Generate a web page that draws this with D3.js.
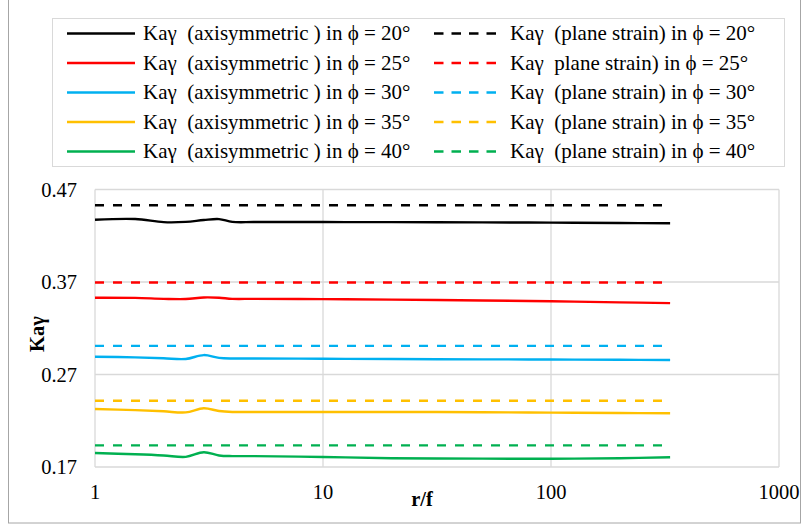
<!DOCTYPE html>
<html>
<head>
<meta charset="utf-8">
<script src="https://cdn.jsdelivr.net/npm/d3@7"></script>
<style>
  body { margin: 0; background: #fff; }
  text { font-family: "Liberation Serif", "Times New Roman", serif; }
</style>
</head>
<body>
<div id="chart"></div>
<script>
// r/f values (log axis)
var rf = [1, 1.5, 2, 2.5, 3, 3.5, 4, 5, 10, 20, 50, 100, 200, 333];

// Kay axisymmetric, one array per friction angle
var axi20 = [0.4373, 0.4381, 0.4347, 0.4350, 0.4370, 0.4380, 0.4350, 0.4348, 0.4348, 0.4347, 0.4345, 0.4342, 0.4338, 0.4335];
var axi25 = [0.3530, 0.3528, 0.3518, 0.3516, 0.3533, 0.3530, 0.3518, 0.3518, 0.3515, 0.3510, 0.3500, 0.3492, 0.3480, 0.3472];
var axi30 = [0.2892, 0.2885, 0.2875, 0.2868, 0.2910, 0.2880, 0.2873, 0.2873, 0.2870, 0.2867, 0.2864, 0.2862, 0.2859, 0.2857];
var axi35 = [0.2327, 0.2315, 0.2302, 0.2290, 0.2335, 0.2305, 0.2295, 0.2295, 0.2295, 0.2295, 0.2292, 0.2288, 0.2284, 0.2281];
var axi40 = [0.1851, 0.1838, 0.1825, 0.1810, 0.1860, 0.1825, 0.1818, 0.1818, 0.1808, 0.1795, 0.1790, 0.1790, 0.1795, 0.1806];

// Kay plane strain (constant over r/f)
var plane_rf = [1, 333];
var plane = [0.453, 0.3695, 0.301, 0.2417, 0.1934];

var phis = ["20", "25", "30", "35", "40"];
var colors = ["#000000", "#ff0000", "#00b0f0", "#ffc000", "#00b050"];

var y_ticks = [0.17, 0.27, 0.37, 0.47];
var x_ticks = [1, 10, 100, 1000];

var width = 803;
var height = 524;
var plot = {"left": 95, "right": 779, "top": 189.5, "bottom": 467};

var svg = d3.select('#chart').append('svg')
    .attr('width', width)
    .attr('height', height);

// outer frame
svg.append('rect')
    .attr('x', 8.5).attr('y', -1)
    .attr('width', 792).attr('height', 524)
    .attr('fill', 'none')
    .attr('stroke', '#a6a6a6')
    .attr('stroke-width', 1);

var x = d3.scaleLog().domain([1, 1000]).range([plot.left, plot.right]);
var y = d3.scaleLinear().domain([0.17, 0.47]).range([plot.bottom, plot.top]);

// grid
svg.selectAll('.hgrid')
    .data(y_ticks)
    .enter()
    .append('line')
    .attr('x1', plot.left).attr('x2', plot.right)
    .attr('y1', function(d){ return y(d); })
    .attr('y2', function(d){ return y(d); })
    .attr('stroke', '#d9d9d9')
    .attr('stroke-width', 1.3);

svg.selectAll('.vgrid')
    .data(x_ticks)
    .enter()
    .append('line')
    .attr('x1', function(d){ return x(d); })
    .attr('x2', function(d){ return x(d); })
    .attr('y1', plot.top).attr('y2', plot.bottom)
    .attr('stroke', '#d9d9d9')
    .attr('stroke-width', 1.3);

// tick labels
svg.selectAll('.ylab')
    .data(y_ticks)
    .enter()
    .append('text')
    .attr('x', 77)
    .attr('y', function(d){ return y(d); })
    .attr('dy', '0.35em')
    .attr('text-anchor', 'end')
    .attr('font-size', '20.5px')
    .text(function(d){ return d3.format('.2f')(d); });

svg.selectAll('.xlab')
    .data(x_ticks)
    .enter()
    .append('text')
    .attr('x', function(d){ return x(d); })
    .attr('y', 499)
    .attr('text-anchor', 'middle')
    .attr('font-size', '20.5px')
    .text(function(d){ return d; });

// axis titles
svg.append('text')
    .attr('x', 422).attr('y', 506)
    .attr('text-anchor', 'middle')
    .attr('font-size', '20.5px')
    .attr('font-weight', 'bold')
    .text('r/f');

svg.append('text')
    .attr('transform', 'translate(44,334) rotate(-90)')
    .attr('text-anchor', 'middle')
    .attr('font-size', '20.5px')
    .attr('font-weight', 'bold')
    .text('Kaγ');

var line = d3.line()
    .x(function(d){ return x(d[0]); })
    .y(function(d){ return y(d[1]); })
    .curve(d3.curveCatmullRom.alpha(0.5));

var axi = [axi20, axi25, axi30, axi35, axi40];

// plane strain dashed lines
svg.selectAll('.plane')
    .data(plane)
    .enter()
    .append('path')
    .attr('d', function(d){ return line(plane_rf.map(function(r){ return [r, d]; })); })
    .attr('fill', 'none')
    .attr('stroke', function(d, i){ return colors[i]; })
    .attr('stroke-width', 2.4)
    .attr('stroke-dasharray', '9,9');

// axisymmetric solid lines
svg.selectAll('.axi')
    .data(axi)
    .enter()
    .append('path')
    .attr('d', function(d){ return line(rf.map(function(r, j){ return [r, d[j]]; })); })
    .attr('fill', 'none')
    .attr('stroke', function(d, i){ return colors[i]; })
    .attr('stroke-width', 2.4);

// legend
svg.append('rect')
    .attr('x', 52.5).attr('y', 18.5)
    .attr('width', 732).attr('height', 148)
    .attr('fill', '#fff')
    .attr('stroke', '#d9d9d9')
    .attr('stroke-width', 1);

var row_y = function(i){ return 33.5 + i * 29.5; };

var legend = svg.selectAll('.legend')
    .data(phis)
    .enter()
    .append('g');

legend.append('line')
    .attr('x1', 67).attr('x2', 135)
    .attr('y1', function(d, i){ return row_y(i); })
    .attr('y2', function(d, i){ return row_y(i); })
    .attr('stroke', function(d, i){ return colors[i]; })
    .attr('stroke-width', 2.4);

legend.append('text')
    .attr('x', 143)
    .attr('y', function(d, i){ return row_y(i); })
    .attr('dy', '0.33em')
    .attr('font-size', '21px')
    .attr('xml:space', 'preserve')
    .text(function(d){ return 'Kaγ  (axisymmetric ) in ϕ = ' + d + '°'; });

legend.append('line')
    .attr('x1', 434).attr('x2', 498)
    .attr('y1', function(d, i){ return row_y(i); })
    .attr('y2', function(d, i){ return row_y(i); })
    .attr('stroke', function(d, i){ return colors[i]; })
    .attr('stroke-width', 2.4)
    .attr('stroke-dasharray', '9.5,8');

legend.append('text')
    .attr('x', 510)
    .attr('y', function(d, i){ return row_y(i); })
    .attr('dy', '0.33em')
    .attr('font-size', '21px')
    .attr('xml:space', 'preserve')
    .text(function(d, i){
        if (d == '25') return 'Kaγ  plane strain) in ϕ = ' + d + '°';
        return 'Kaγ  (plane strain) in ϕ = ' + d + '°';
    });
</script>
</body>
</html>
